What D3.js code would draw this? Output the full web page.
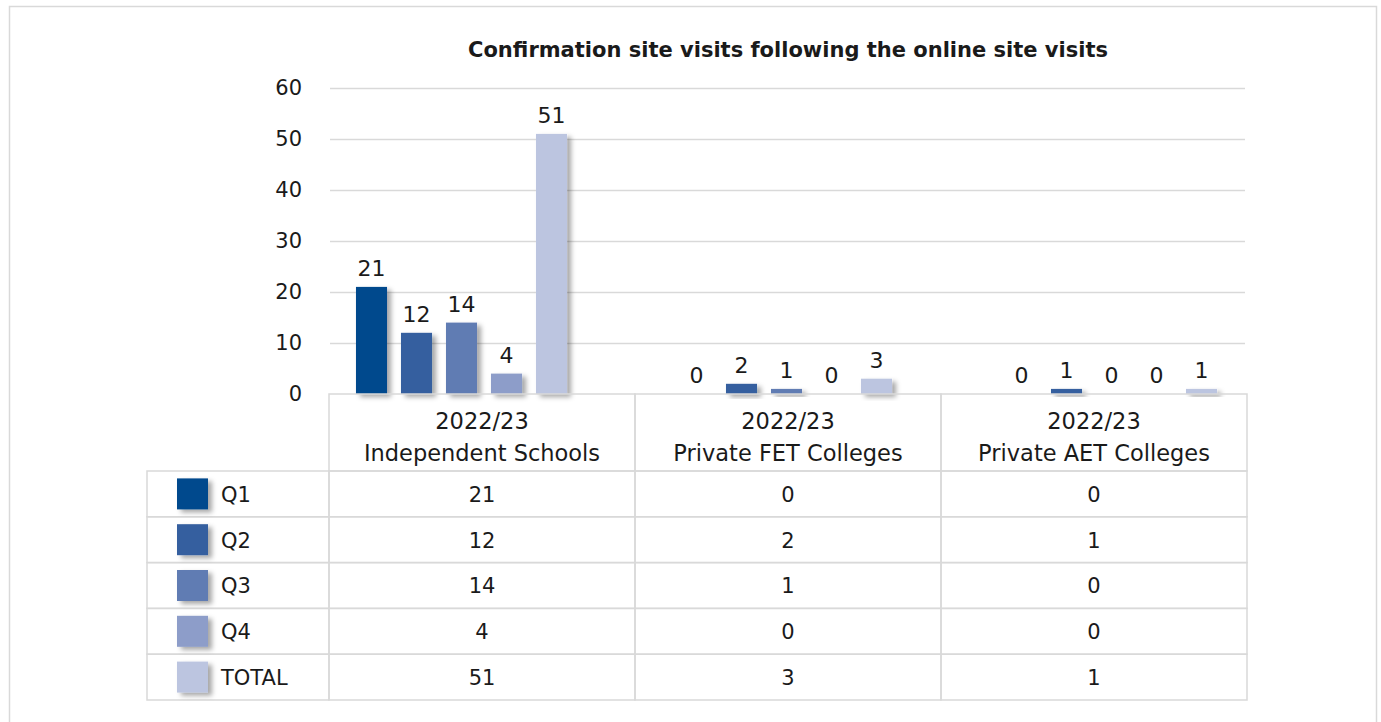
<!DOCTYPE html>
<html>
<head>
<meta charset="utf-8">
<script src="https://cdn.jsdelivr.net/npm/d3@7"></script>
<style>
  body { margin: 0; background: #fff; }
  text { font-family: "DejaVu Sans", sans-serif; fill: #1a1a1a; }
</style>
</head>
<body>
<div id="chart"></div>
<script>
// data
const categoryYears = ['2022/23', '2022/23', '2022/23'];
const categoryNames = ['Independent Schools', 'Private FET Colleges', 'Private AET Colleges'];
const seriesNames = ['Q1', 'Q2', 'Q3', 'Q4', 'TOTAL'];
const q1Values = [21, 0, 0];
const q2Values = [12, 2, 1];
const q3Values = [14, 1, 0];
const q4Values = [4, 0, 0];
const totalValues = [51, 3, 1];
const yTicks = [0, 10, 20, 30, 40, 50, 60];
const seriesColors = ['#00498d', '#355e9f', '#607bb3', '#8d9dc9', '#bcc5e0'];

const seriesValues = [q1Values, q2Values, q3Values, q4Values, totalValues];

const width = 1381, height = 722;
const border = '#d9d9d9';

const svg = d3.select('#chart').append('svg')
  .attr('width', width)
  .attr('height', height);

// shadow for bars and legend keys
const defs = svg.append('defs');
defs.append('filter')
  .attr('id', 'shadow')
  .attr('x', '-30%').attr('y', '-30%')
  .attr('width', '170%').attr('height', '170%')
  .append('feDropShadow')
  .attr('dx', 4).attr('dy', 3)
  .attr('stdDeviation', 2.5)
  .attr('flood-color', '#000')
  .attr('flood-opacity', 0.35);

// outer frame
svg.append('rect')
  .attr('x', 9.5).attr('y', 6.5)
  .attr('width', 1367).attr('height', 740)
  .attr('fill', '#fff')
  .attr('stroke', border)
  .attr('stroke-width', 1.5);

// title
svg.append('text')
  .attr('x', 788).attr('y', 57)
  .attr('text-anchor', 'middle')
  .style('font-weight', 'bold')
  .style('font-size', '21px')
  .text('Confirmation site visits following the online site visits');

// scales
const plotLeft = 330, plotRight = 1245;
const y = d3.scaleLinear().domain([0, 60]).range([394, 88]);

const x0 = d3.scaleBand()
  .domain(d3.range(categoryNames.length))
  .range([299, 1274]);

const x1 = d3.scaleBand()
  .domain(seriesNames)
  .range([x0.bandwidth() / 2 - 112.5, x0.bandwidth() / 2 + 112.5])
  .paddingInner(0.31)
  .paddingOuter(0.155);

const col = d3.scaleBand()
  .domain(d3.range(categoryNames.length))
  .range([329, 1247]);

const row = d3.scaleBand()
  .domain(seriesNames)
  .range([471, 700]);

// gridlines
svg.append('g')
  .attr('transform', `translate(${plotLeft},0)`)
  .call(d3.axisLeft(y).tickValues(yTicks.filter(d => d > 0)).tickSize(-(plotRight - plotLeft)).tickFormat(''))
  .call(g => g.select('.domain').remove())
  .call(g => g.selectAll('line').attr('stroke', border).attr('stroke-width', 1.5));

// y axis labels
svg.append('g')
  .attr('transform', `translate(${plotLeft},0)`)
  .call(d3.axisLeft(y).tickValues(yTicks).tickSize(0).tickPadding(28))
  .call(g => g.select('.domain').remove())
  .call(g => g.selectAll('text')
    .style('font-size', '21px')
    .style('font-family', '"DejaVu Sans", sans-serif')
    .attr('fill', '#1a1a1a'));

// bars
const groups = svg.append('g').selectAll('g')
  .data(d3.range(categoryNames.length))
  .join('g')
  .attr('transform', i => `translate(${x0(i)},0)`);

groups.selectAll('rect')
  .data(i => seriesNames.map((s, k) => ({ s, k, v: seriesValues[k][i] })))
  .join('rect')
  .filter(d => d.v > 0)
  .attr('x', d => x1(d.s))
  .attr('y', d => y(d.v))
  .attr('width', x1.bandwidth())
  .attr('height', d => y(0) - y(d.v))
  .attr('fill', d => seriesColors[d.k])
  .attr('filter', 'url(#shadow)');

groups.selectAll('text')
  .data(i => seriesNames.map((s, k) => ({ s, k, v: seriesValues[k][i] })))
  .join('text')
  .attr('x', d => x1(d.s) + x1.bandwidth() / 2)
  .attr('y', d => y(d.v) - 11)
  .attr('text-anchor', 'middle')
  .style('font-size', '22px')
  .text(d => d.v);

// data table
const table = svg.append('g')
  .attr('fill', 'none')
  .attr('stroke', border)
  .attr('stroke-width', 1.5);

// header cells
table.selectAll('rect.head')
  .data(d3.range(categoryNames.length))
  .join('rect')
  .attr('class', 'head')
  .attr('x', i => col(i))
  .attr('y', 394)
  .attr('width', col.bandwidth())
  .attr('height', row.range()[0] - 394);

// body cells: legend column + value columns
table.selectAll('rect.leg')
  .data(seriesNames)
  .join('rect')
  .attr('class', 'leg')
  .attr('x', 147)
  .attr('y', d => row(d))
  .attr('width', col(0) - 147)
  .attr('height', row.bandwidth());

table.selectAll('g.rowcells')
  .data(seriesNames)
  .join('g')
  .attr('class', 'rowcells')
  .selectAll('rect')
  .data(s => d3.range(categoryNames.length).map(i => ({ s, i })))
  .join('rect')
  .attr('x', d => col(d.i))
  .attr('y', d => row(d.s))
  .attr('width', col.bandwidth())
  .attr('height', row.bandwidth());

// header labels
const head = svg.append('g').selectAll('text')
  .data(d3.range(categoryNames.length))
  .join('text')
  .attr('x', i => col(i) + col.bandwidth() / 2)
  .attr('text-anchor', 'middle')
  .style('font-size', '22.5px');
head.append('tspan').attr('x', i => col(i) + col.bandwidth() / 2).attr('y', 429).text(i => categoryYears[i]);
head.append('tspan').attr('x', i => col(i) + col.bandwidth() / 2).attr('y', 461).text(i => categoryNames[i]);

// legend keys and names
const legend = svg.append('g').selectAll('g')
  .data(seriesNames)
  .join('g')
  .attr('transform', d => `translate(0,${row(d)})`);

legend.append('rect')
  .attr('x', 177)
  .attr('y', (row.bandwidth() - 31) / 2)
  .attr('width', 31)
  .attr('height', 31)
  .attr('fill', (d, k) => seriesColors[k])
  .attr('filter', 'url(#shadow)');

legend.append('text')
  .attr('x', 221)
  .attr('y', row.bandwidth() / 2 + 8)
  .style('font-size', '21px')
  .text(d => d);

// table values
legend.selectAll('text.val')
  .data((s, k) => d3.range(categoryNames.length).map(i => seriesValues[k][i]))
  .join('text')
  .attr('class', 'val')
  .attr('x', (v, i) => col(i) + col.bandwidth() / 2)
  .attr('y', row.bandwidth() / 2 + 8)
  .attr('text-anchor', 'middle')
  .style('font-size', '21px')
  .text(v => v);
</script>
</body>
</html>
